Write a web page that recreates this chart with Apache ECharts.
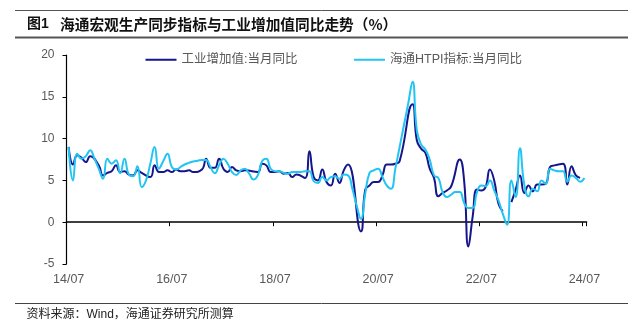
<!DOCTYPE html>
<html><head><meta charset="utf-8">
<script src="https://cdn.jsdelivr.net/npm/echarts@6/dist/echarts.min.js"></script>
<style>html,body{margin:0;padding:0;background:#fff;}#c{width:639px;height:327px;}</style>
</head><body><div id="c"></div>
<script>
// Monthly categories 2014-07 .. 2024-07
const startYear = 2014, startMonth = 7, monthCount = 121;
const categories = [];
for (let k = 0; k < monthCount; k++) {
  const m = (startMonth - 1 + k) % 12 + 1;
  const y = startYear + Math.floor((startMonth - 1 + k) / 12);
  categories.push(String(y % 100).padStart(2, '0') + '/' + String(m).padStart(2, '0'));
}

// 工业增加值:当月同比, 2014-07 .. 2022-12 (null = no separate monthly print, line connected)
const ipBefore = [
  9.0, 6.9, 8.0, 7.7, 7.2, 7.9,
  null, 6.8, 5.6, 5.9, 6.1, 6.8, 6.0, 6.1, 5.7, 5.6, 6.2, 5.9,
  null, 5.4, 6.8, 6.0, 6.0, 6.2, 6.0, 6.3, 6.1, 6.1, 6.2, 6.0,
  null, 6.3, 7.6, 6.5, 6.5, 7.6, 6.4, 6.0, 6.6, 6.2, 6.1, 6.2,
  null, null, 6.0, 7.0, 6.8, 6.0, 6.0, 6.1, 5.8, 5.9, 5.4, 5.7,
  null, 5.3, 8.5, 5.4, 5.0, 6.3, 4.8, 4.4, 5.8, 4.7, 6.2, 6.9,
  null, null, -1.1, 3.9, 4.4, 4.8, 4.8, 5.6, 6.9, 6.9, 7.0, 7.3,
  null, null, 14.1, 9.8, 8.8, 8.3, 6.4, 5.3, 3.1, 3.5, 3.8, 4.3,
  null, 7.5, 5.0, -2.9, 0.7, 3.9, 3.8, 4.2, 6.3, 5.0, 2.2, 1.3
];
// 工业增加值:当月同比, 2023-02 .. 2024-06 (after the gap at 2023-01)
const ipAfterStart = 103;
const ipAfter = [2.4, 3.9, 5.6, 3.5, 4.4, 3.7, 4.5, 4.5, 4.6, 6.6, 6.8, null, 7.0, 4.5, 6.7, 5.6, 5.3];

// 海通HTPI指标:当月同比, 2014-07 .. 2024-07
const htpi = [
  9.0, 5.0, 8.2, 7.6, 7.9, 8.6, 7.6, 6.4, 5.2, 7.6,
  7.0, 7.4, 5.85, 7.6, 5.7, 5.5, 6.7, 4.2, 5.0, 7.0,
  9.0, 6.4, 7.3, 8.2, 6.6, 6.3, 6.6, 6.9, 7.1, 7.25,
  7.35, 7.45, 7.45, 6.6, 5.85, 6.8, 7.6, 7.0, 6.0, 5.65,
  6.2, 6.4, 5.8, 5.1, 5.6, 7.3, 7.6, 6.4, 6.1, 6.1,
  5.9, 5.8, 6.0, 6.0, 6.0, 6.1, 6.1, 4.9, 4.7, 5.4,
  5.0, 5.4, 5.5, 5.2, 5.7, 5.6, 4.0, 2.0, 0.4, 3.4,
  5.9, 6.2, 6.4, 5.4, 4.4, 4.0, 6.4, 9.0, 11.6, 14.2,
  16.8, 11.0, 9.3, 8.7, 7.5, 5.6, 5.3, 3.6, 3.0, 3.3,
  3.6, 3.6, 2.3, 1.7, 1.7, 3.6, 4.4, 4.3, 5.0, 3.8,
  2.6, 1.0, -0.3, 5.0, 3.0, 8.85, 4.5, 3.1, 4.0, 3.7,
  5.0, 4.6, 6.4, 6.2, 6.1, 6.1, 4.85, 5.6, 5.3, 4.85, 5.3
];

const yMin = -5, yMax = 20, yInterval = 5;
const nameIP = '工业增加值:当月同比';
const nameHT = '海通HTPI指标:当月同比';
const colorIP = '#15158c';
const colorHT = '#22c5f2';
const FONT = '"Liberation Sans", Arial, "Noto Sans CJK SC", sans-serif';

const ipSeriesA = categories.map((c, i) => i < ipBefore.length ? ipBefore[i] : null);
const ipSeriesB = categories.map((c, i) => (i >= ipAfterStart && i - ipAfterStart < ipAfter.length) ? ipAfter[i - ipAfterStart] : null);

const chart = echarts.init(document.getElementById('c'), null, {renderer: 'canvas'});
const lineCommon = {type: 'line', smooth: 0.5, connectNulls: true, symbol: 'none', showSymbol: false};
const legendCommon = {top: 53.5, padding: 0, icon: 'rect', itemWidth: 31, itemHeight: 2, itemGap: 0,
  textStyle: {color: '#595959', fontSize: 12.5, fontFamily: FONT, padding: [0, 0, 0, 0]}};
chart.setOption({
  animation: false,
  backgroundColor: '#fff',
  textStyle: {fontFamily: FONT},
  grid: {left: 66.5, right: 52.4, top: 55, bottom: 63, containLabel: false},
  legend: [
    Object.assign({}, legendCommon, {data: [nameIP], left: 145.5}),
    Object.assign({}, legendCommon, {data: [nameHT], left: 354})
  ],
  xAxis: {
    type: 'category', data: categories, boundaryGap: true,
    axisLine: {onZero: true, lineStyle: {color: '#000', width: 1.5}},
    axisTick: {show: true, interval: 23, length: 4, lineStyle: {color: '#000', width: 1}},
    axisLabel: {interval: 23, margin: 9, color: '#595959', fontSize: 12.5, fontFamily: FONT},
    splitLine: {show: false}
  },
  yAxis: {
    type: 'value', min: yMin, max: yMax, interval: yInterval,
    axisLine: {show: true, lineStyle: {color: '#000', width: 1.2}},
    axisTick: {show: true, length: 4, lineStyle: {color: '#000'}},
    axisLabel: {color: '#595959', fontSize: 12, margin: 12, fontFamily: FONT},
    splitLine: {show: false}
  },
  series: [
    Object.assign({}, lineCommon, {name: nameIP, data: ipSeriesA, lineStyle: {color: colorIP, width: 2}, itemStyle: {color: colorIP}}),
    Object.assign({}, lineCommon, {name: nameIP, data: ipSeriesB, lineStyle: {color: colorIP, width: 2}, itemStyle: {color: colorIP}}),
    Object.assign({}, lineCommon, {name: nameHT, data: htpi, lineStyle: {color: colorHT, width: 2}, itemStyle: {color: colorHT}})
  ],
  graphic: [
    {type: 'line', shape: {x1: 15, y1: 10.5, x2: 628, y2: 10.5}, style: {stroke: '#555', lineWidth: 1}},
    {type: 'line', shape: {x1: 15, y1: 37.5, x2: 628, y2: 37.5}, style: {stroke: '#555', lineWidth: 2}},
    {type: 'text', x: 27, y: 24, style: {text: '图1', font: 'bold 14px "Liberation Sans", "Noto Sans CJK SC"', fill: '#111', verticalAlign: 'middle'}},
    {type: 'text', x: 60, y: 24, style: {text: '海通宏观生产同步指标与工业增加值同比走势（%）', font: 'bold 14.7px "Noto Sans CJK SC"', fill: '#111', verticalAlign: 'middle'}},
    {type: 'line', shape: {x1: 15, y1: 303.5, x2: 628, y2: 303.5}, style: {stroke: '#444', lineWidth: 1}},
    {type: 'text', x: 26.5, y: 314.5, style: {text: '资料来源：Wind，海通证券研究所测算', font: '12px "Liberation Sans", "Noto Sans CJK SC"', fill: '#222', verticalAlign: 'middle'}}
  ]
});
</script>
</body></html>
